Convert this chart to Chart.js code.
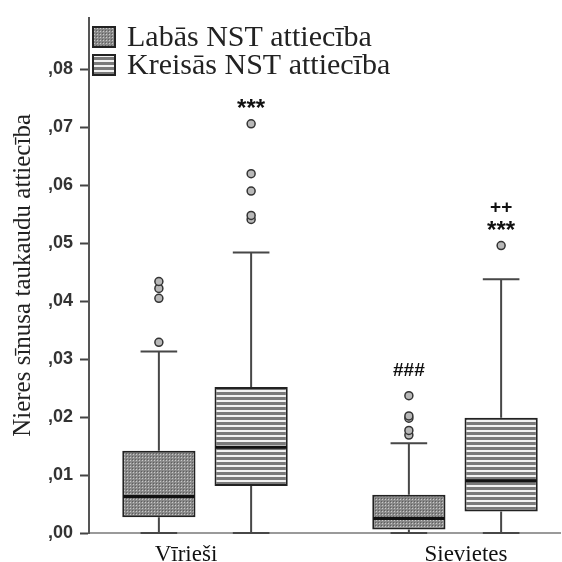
<!DOCTYPE html>
<html>
<head>
<meta charset="utf-8">
<script src="https://cdn.jsdelivr.net/npm/chart.js"></script>
<style>
  body { margin: 0; background: #fff; }
  #wrap { width: 562px; height: 562px; }
</style>
</head>
<body>
<div id="wrap"><canvas id="boxChart"></canvas></div>
<script>
const categories = ['Vīrieši', 'Sievietes'];
const seriesNames = ['Labās NST attiecība', 'Kreisās NST attiecība'];
const yTickValues = [0, 0.01, 0.02, 0.03, 0.04, 0.05, 0.06, 0.07, 0.08];

// Labās NST attiecība
const labasMin = [0, 0];
const labasQ1 = [0.0027, 0.0006];
const labasMedian = [0.0063, 0.0025];
const labasQ3 = [0.0142, 0.0066];
const labasMax = [0.0313, 0.0155];
const labasOutliers = [[0.0329, 0.0405, 0.0422, 0.0434], [0.0169, 0.0177, 0.0198, 0.0202, 0.0237]];
const labasMarks = [[], ['###']];

// Kreisās NST attiecība
const kreisasMin = [0, 0];
const kreisasQ1 = [0.0081, 0.0037];
const kreisasMedian = [0.0148, 0.0090];
const kreisasQ3 = [0.0252, 0.0199];
const kreisasMax = [0.0484, 0.0438];
const kreisasOutliers = [[0.0541, 0.0548, 0.0590, 0.0620, 0.0706], [0.0496]];
const kreisasMarks = [['***'], ['***', '++']];

// fill patterns like the SPSS ones
function dotPattern() {
    const c = document.createElement('canvas');
    c.width = 3; c.height = 3;
    const g = c.getContext('2d');
    g.fillStyle = '#898989';
    g.fillRect(0, 0, 3, 3);
    g.fillStyle = '#c9c9c9';
    g.fillRect(1, 1, 1, 1);
    g.fillStyle = '#5e5e5e';
    g.fillRect(0, 0, 1, 1);
    return g.createPattern(c, 'repeat');
}
function stripePattern() {
    const c = document.createElement('canvas');
    c.width = 4; c.height = 5;
    const g = c.getContext('2d');
    g.fillStyle = '#f2f2f2';
    g.fillRect(0, 0, 4, 5);
    g.fillStyle = '#7a7a7a';
    g.fillRect(0, 2, 4, 3);
    return g.createPattern(c, 'repeat');
}

function boxData(q1, q3) {
    return categories.map((c, i) => ({ x: i, y: [q1[i], q3[i]] }));
}

// whiskers, medians, outliers and significance marks
const boxExtras = {
    id: 'boxExtras',
    afterDatasetsDraw(chart) {
        const ctx = chart.ctx;
        const y = chart.scales.y;
        chart.data.datasets.forEach((ds, i) => {
            const meta = chart.getDatasetMeta(i);
            meta.data.forEach((bar, j) => {
                const cx = bar.x;
                const half = bar.width / 2;
                const pMin = y.getPixelForValue(ds.stats.min[j]);
                const pQ1 = y.getPixelForValue(ds.data[j].y[0]);
                const pQ3 = y.getPixelForValue(ds.data[j].y[1]);
                const pMax = y.getPixelForValue(ds.stats.max[j]);
                const pMed = y.getPixelForValue(ds.stats.median[j]);
                ctx.save();
                ctx.strokeStyle = '#474747';
                ctx.lineWidth = 2;
                ctx.beginPath();
                ctx.moveTo(cx, pQ3); ctx.lineTo(cx, pMax);
                ctx.moveTo(cx, pQ1); ctx.lineTo(cx, pMin);
                ctx.moveTo(cx - half / 2, pMax); ctx.lineTo(cx + half / 2, pMax);
                ctx.moveTo(cx - half / 2, pMin); ctx.lineTo(cx + half / 2, pMin);
                ctx.stroke();

                ctx.strokeStyle = '#111';
                ctx.lineWidth = 3;
                ctx.beginPath();
                ctx.moveTo(cx - half + 1, pMed); ctx.lineTo(cx + half - 1, pMed);
                ctx.stroke();

                let top = pMax;
                ds.stats.outliers[j].forEach(v => {
                    const py = y.getPixelForValue(v);
                    top = Math.min(top, py);
                    ctx.beginPath();
                    ctx.arc(cx, py, 4, 0, Math.PI * 2);
                    ctx.fillStyle = '#b8b8b8';
                    ctx.fill();
                    ctx.strokeStyle = '#333';
                    ctx.lineWidth = 1.5;
                    ctx.stroke();
                });

                ctx.fillStyle = '#111';
                ctx.textAlign = 'center';
                ctx.textBaseline = 'middle';
                let ty = top;
                ds.stats.marks[j].forEach((m, k) => {
                    const star = m[0] === '*';
                    ctx.font = star ? 'bold 24px "Liberation Sans"' : 'bold 19px "Liberation Sans"';
                    ty -= k === 0 ? (star ? 14 : 25) : 24;
                    ctx.fillText(m, cx, ty);
                });
                ctx.restore();
            });
        });
    }
};

// legend drawn inside the plot, stacked at top left
const boxLegend = {
    id: 'boxLegend',
    afterDraw(chart) {
        const ctx = chart.ctx;
        ctx.save();
        chart.data.datasets.forEach((ds, i) => {
            const top = 27 + i * 28;
            ctx.fillStyle = ds.backgroundColor;
            ctx.fillRect(93, top, 22, 20);
            ctx.strokeStyle = '#222';
            ctx.lineWidth = 2;
            ctx.strokeRect(93, top, 22, 20);
            ctx.fillStyle = '#222';
            ctx.font = '30px "Liberation Serif"';
            ctx.textAlign = 'left';
            ctx.textBaseline = 'alphabetic';
            ctx.fillText(ds.label, 127, top + 19);
        });
        ctx.restore();
    }
};

const ctx = document.getElementById('boxChart').getContext('2d');
const myChart = new Chart(ctx, {
    type: 'bar',
    data: {
        datasets: [{
            label: seriesNames[0],
            data: boxData(labasQ1, labasQ3),
            stats: { min: labasMin, median: labasMedian, max: labasMax, outliers: labasOutliers, marks: labasMarks },
            backgroundColor: dotPattern(),
            borderColor: '#222',
            borderWidth: 2,
            borderSkipped: false
        }, {
            label: seriesNames[1],
            data: boxData(kreisasQ1, kreisasQ3),
            stats: { min: kreisasMin, median: kreisasMedian, max: kreisasMax, outliers: kreisasOutliers, marks: kreisasMarks },
            backgroundColor: stripePattern(),
            borderColor: '#222',
            borderWidth: 2,
            borderSkipped: false
        }]
    },
    options: {
        responsive: true,
        maintainAspectRatio: false,
        animation: false,
        events: [],
        layout: { padding: { top: 15, right: 2, left: 0, bottom: 0 } },
        datasets: {
            bar: { categoryPercentage: 0.738, barPercentage: 0.794 }
        },
        plugins: {
            tooltip: { enabled: false },
            legend: { display: false }
        },
        scales: {
            x: {
                type: 'linear',
                offset: false,
                min: -0.464,
                max: 1.42,
                grid: { display: false },
                border: { display: true, color: '#9a9a9a', width: 2 },
                afterBuildTicks: s => { s.ticks = [{ value: -0.076 }, { value: 1.044 }]; },
                afterFit: s => { s.height = 29; },
                ticks: {
                    padding: 0,
                    color: '#111',
                    font: { family: 'Liberation Serif', size: 23 },
                    callback: (v, i) => categories[i]
                }
            },
            y: {
                min: 0,
                max: 0.0889,
                grid: { drawOnChartArea: false, drawTicks: true, tickLength: 9, tickColor: '#444', tickWidth: 2 },
                border: { display: true, color: '#555', width: 2 },
                afterBuildTicks: s => { s.ticks = yTickValues.map(v => ({ value: v })); },
                afterFit: s => { s.width = 89; },
                ticks: {
                    padding: 7,
                    color: '#333',
                    font: { family: 'Liberation Sans', size: 18, weight: 'bold' },
                    callback: v => v.toFixed(2).replace('0.', ',')
                },
                title: {
                    display: true,
                    text: 'Nieres sīnusa taukaudu attiecība',
                    color: '#222',
                    padding: { top: 8, bottom: 0 },
                    font: { family: 'Liberation Serif', size: 25 }
                }
            }
        }
    },
    plugins: [boxExtras, boxLegend]
});
</script>
</body>
</html>
